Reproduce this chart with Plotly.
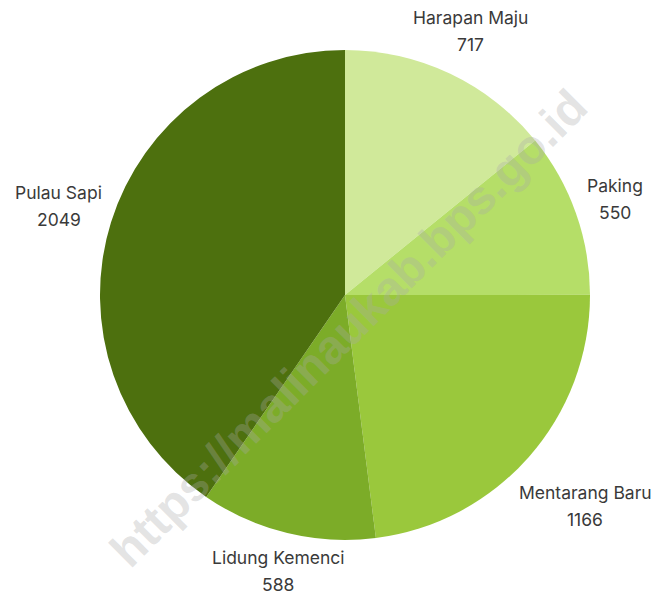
import math
import plotly.graph_objects as go

labels = ["Harapan Maju", "Paking", "Mentarang Baru", "Lidung Kemenci", "Pulau Sapi"]
values = [717, 550, 1166, 588, 2049]
colors = ["#d0e99a", "#b5de68", "#9ac83c", "#7cac28", "#4d700e"]
label_dist = [292, 287, 320, 284, 300]  # radial distance (px) of label block centre

W, H = 657, 598
cx, cy, r = 345, 295, 245

fig = go.Figure(go.Pie(
    labels=labels,
    values=values,
    sort=False,
    direction="clockwise",
    rotation=0,
    marker=dict(colors=colors, line=dict(width=0)),
    textinfo="none",
    hoverinfo="label+value",
    showlegend=False,
    domain=dict(x=[(cx - r) / W, (cx + r) / W], y=[1 - (cy + r) / H, 1 - (cy - r) / H]),
))

total = sum(values)
cum = 0
font = dict(family="Inter", size=17.5, color="#3a3a3a")
for lab, val, d in zip(labels, values, label_dist):
    mid = (cum + val / 2) / total * 2 * math.pi
    cum += val
    px = cx + d * math.sin(mid)
    py = cy - d * math.cos(mid)
    for txt, shift in ((lab, 13.5), (str(val), -13.5)):
        fig.add_annotation(
            text=txt, x=px / W, y=1 - py / H, xref="paper", yref="paper",
            showarrow=False, yshift=shift, font=font,
            xanchor="center", yanchor="middle",
        )

fig.add_annotation(
    text="<b>https://malinaukab.bps.go.id</b>",
    x=348 / W, y=1 - 328 / H, xref="paper", yref="paper",
    showarrow=False, textangle=-45,
    font=dict(family="Liberation Sans", size=48, color="rgba(170,170,170,0.33)"),
)

fig.update_layout(
    width=W, height=H,
    margin=dict(l=0, r=0, t=0, b=0),
    paper_bgcolor="white",
    plot_bgcolor="white",
)

fig.write_html("out.html", config={"displayModeBar": False},
               post_script="document.body.style.margin='0';")
